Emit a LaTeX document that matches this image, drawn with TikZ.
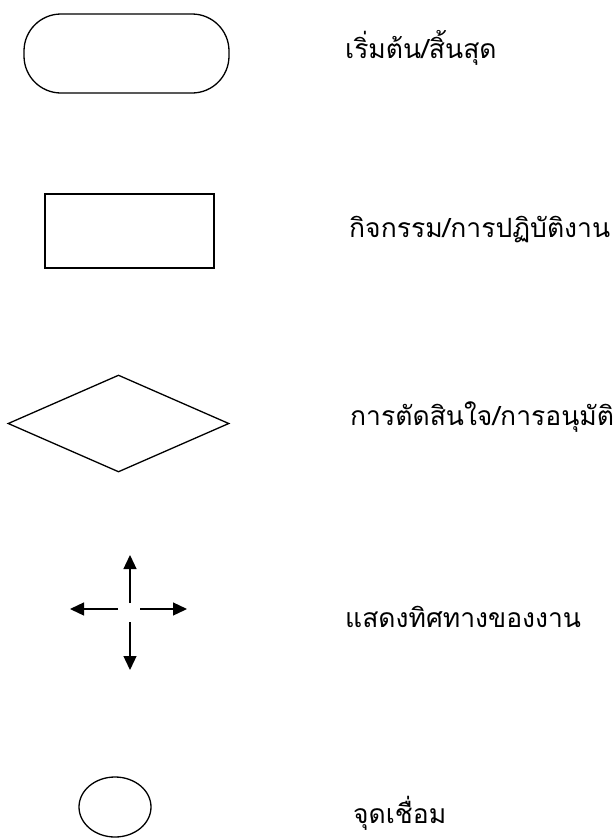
\documentclass[tikz,border=0pt]{standalone}
\usepackage{fontspec}
\newfontfamily\thaifont[Script=Thai]{Loma}
\usetikzlibrary{shapes.geometric,arrows.meta}
\begin{document}
\begin{tikzpicture}[x=1pt,y=-1pt,
  shp/.style={draw=black,line width=1.3pt,inner sep=0pt},
  lbl/.style={anchor=base west,inner sep=0pt,font=\thaifont\fontsize{26.5}{30}\selectfont},
  arr/.style={line width=1.3pt,-{Triangle[length=14pt,width=13pt]}}]
\useasboundingbox (0,0) rectangle (613,838);
\node[shp,rounded corners=37pt,minimum width=205pt,minimum height=79pt] (term) at (126.5,53.5) {};
\node[shp,minimum width=169pt,minimum height=74pt] (proc) at (129.5,231) {};
\node[shp,diamond,minimum width=221pt,minimum height=97pt] (dec) at (118.5,423.5) {};
\coordinate (u0) at (130,603);
\coordinate (u1) at (130,555);
\coordinate (d0) at (130,622);
\coordinate (d1) at (130,670);
\coordinate (l0) at (118,609);
\coordinate (l1) at (70,609);
\coordinate (r0) at (140,609);
\coordinate (r1) at (187,609);
\draw[arr] (u0) -- (u1);
\draw[arr] (d0) -- (d1);
\draw[arr] (l0) -- (l1);
\draw[arr] (r0) -- (r1);
\node[shp,ellipse,minimum width=72pt,minimum height=60pt] (conn) at (115,807) {};
\node[lbl] (t1) at (345,58) {เริ่มต้น/สิ้นสุด};
\node[lbl] (t2) at (349,237) {กิจกรรม/การปฏิบัติงาน};
\node[lbl] (t3) at (350,425) {การตัดสินใจ/การอนุมัติ};
\node[lbl] (t4) at (345,627) {แสดงทิศทางของงาน};
\node[lbl] (t5) at (353,823) {จุดเชื่อม};
\end{tikzpicture}
\end{document}
